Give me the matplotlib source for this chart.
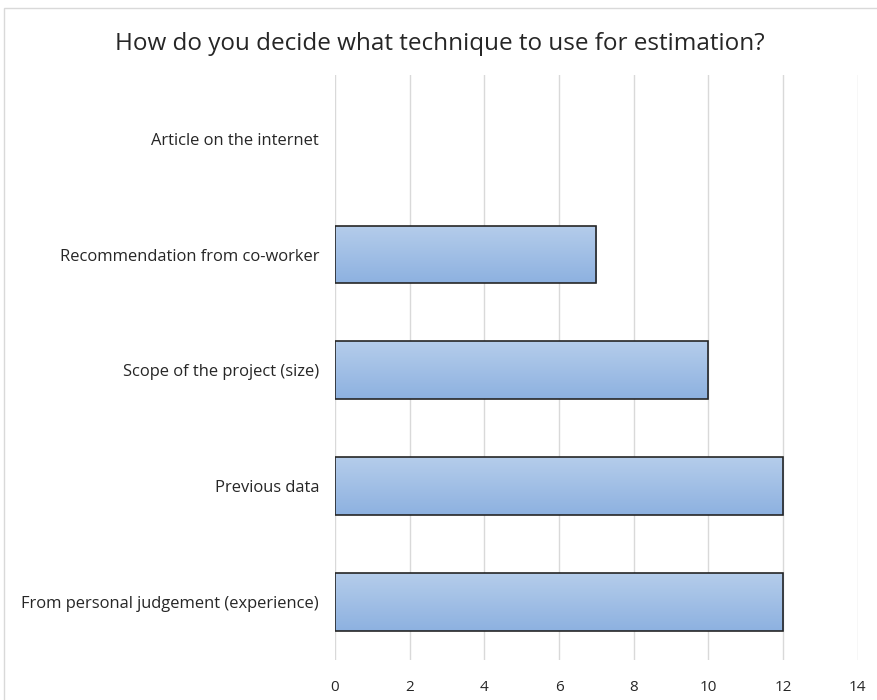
import numpy as np
import matplotlib.pyplot as plt
from matplotlib.patches import Rectangle
from matplotlib.colors import LinearSegmentedColormap

categories = ["From personal judgement (experience)", "Previous data",
              "Scope of the project (size)", "Recommendation from co-worker",
              "Article on the internet"]
counts = [12, 12, 10, 7, 0]
xticks = [0, 2, 4, 6, 8, 10, 12, 14]

plt.rcParams['font.family'] = ['Open Sans', 'DejaVu Sans']

fig = plt.figure(figsize=(8.77, 7), dpi=100)
ax = fig.add_axes([0.382, 0.057, 0.596, 0.836])

y = np.arange(len(categories))
bars = ax.barh(y, counts, height=0.5, color="none", edgecolor="#262626", linewidth=1.2, zorder=3)

# vertical gradient inside each bar, lighter at the top
grad = np.linspace(0, 1, 256).reshape(-1, 1)
cmap = LinearSegmentedColormap.from_list("g", ["#b5cdeb", "#8db1e0"])
for b in bars:
    if b.get_width() == 0:
        b.set_linewidth(0)
        continue
    x0, y0 = b.get_x(), b.get_y()
    w, h = b.get_width(), b.get_height()
    im = ax.imshow(grad, cmap=cmap, aspect="auto", origin="upper",
                   extent=[x0, x0 + w, y0, y0 + h], zorder=2)
    im.set_clip_path(b)

ax.set_xlim(0, 14)
ax.set_ylim(-0.5, 4.55)
ax.set_xticks(xticks)
ax.set_yticks(y)
ax.set_yticklabels(categories, fontsize=11.9, color="#262626")
ax.tick_params(axis="x", labelsize=11, labelcolor="#262626", length=0, pad=14)
ax.tick_params(axis="y", length=0, pad=11.5)
ax.grid(axis="x", color="#d9d9d9", linewidth=1, zorder=0)
for s in ax.spines.values():
    s.set_visible(False)

fig.text(0.502, 0.937, "How do you decide what technique to use for estimation?",
         ha="center", va="center", fontsize=17.5, color="#262626")

fig.patches.append(Rectangle((4 / 877, -0.1), 1.2, 1.1 - 8 / 700, transform=fig.transFigure,
                             fill=False, edgecolor="#d9d9d9", linewidth=1))

fig.savefig("out.png", dpi=100)
